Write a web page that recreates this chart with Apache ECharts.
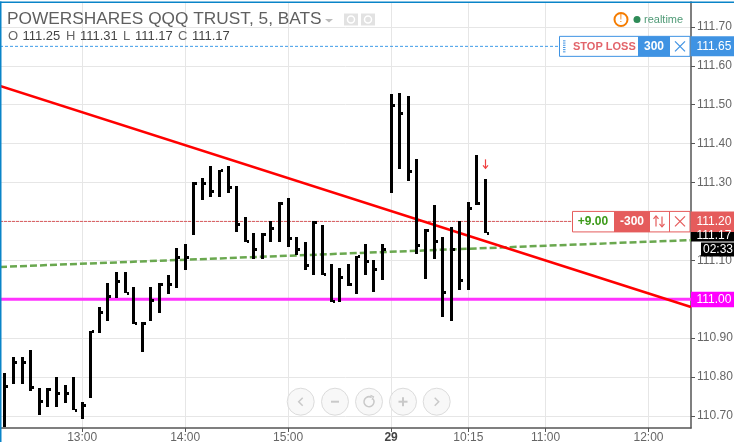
<!DOCTYPE html>
<html><head><meta charset="utf-8">
<style>html,body{margin:0;padding:0;background:#fff}#c{width:734px;height:442px}</style>
<script src="https://cdn.jsdelivr.net/npm/echarts@6/dist/echarts.min.js"></script>
</head><body><div id="c"></div>
<script>
const FONT = '"Liberation Sans", Arial, sans-serif';
const highs = [110.81,110.851,110.851,110.87,110.771,110.771,110.80,110.779,110.80,110.735,110.919,110.979,111.041,111.069,111.069,111.031,110.941,111.031,111.041,111.061,111.131,111.141,111.301,111.311,111.343,111.332,111.343,111.291,111.211,111.17,111.17,111.20,111.249,111.26,111.159,111.147,111.20,111.19,111.09,111.08,111.091,111.111,111.142,111.101,111.142,111.528,111.53,111.523,111.361,111.181,111.242,111.16,111.186,111.20,111.249,111.37,111.31];
const lows = [110.672,110.782,110.782,110.765,110.703,110.724,110.724,110.734,110.714,110.692,110.745,110.914,110.945,111.004,111.015,110.936,110.864,110.945,110.964,111.014,111.03,111.074,111.164,111.254,111.264,111.264,111.274,111.174,111.146,111.104,111.104,111.146,111.147,111.135,111.114,111.074,111.063,111.063,110.994,110.994,111.034,111.014,111.062,111.019,111.05,111.274,111.336,111.304,111.115,111.052,111.104,110.955,110.945,111.024,111.024,111.242,111.17];
const closes = [110.777,110.838,110.838,110.775,110.738,110.769,110.758,110.76,110.715,110.728,110.918,110.967,111.008,111.047,111.017,110.938,110.94,110.998,111.039,111.039,111.108,111.108,111.30,111.298,111.277,111.331,111.288,111.194,111.149,111.129,111.168,111.183,111.248,111.158,111.129,111.089,111.199,111.065,110.996,111.056,111.039,111.11,111.097,111.077,111.129,111.499,111.478,111.33,111.14,111.178,111.149,111.019,111.129,111.049,111.235,111.247,111.17];
const redLine = [[-0.58,111.548],[79.95,110.98]];
const greenLine = [[-0.58,111.083],[79.95,111.152]];
const magentaLevel = 111.00, stopLevel = 111.65, posLevel = 111.20, lastPrice = 111.17;
const priceTicks = [110.7,110.8,110.9,111.0,111.1,111.2,111.3,111.4,111.5,111.6,111.7];
const timeTickIdx = [9,21,33,45,54,63,75];
const timeTickLabels = ['13:00','14:00','15:00','29','10:15','11:00','12:00'];
const arrowBar = 56, arrowPrice = 111.348;

const chart = echarts.init(document.getElementById('c'), null, {renderer:'canvas'});
const lineS = (data,color,width,type,z) => ({type:'line',data,symbol:'none',silent:true,z,animation:false,
  lineStyle:{color,width,type}});
chart.setOption({
  animation:false,
  backgroundColor:'#fff',
  grid:{left:0,right:43,top:2,bottom:14,containLabel:false,outerBoundsMode:'none'},
  xAxis:{type:'value',min:-0.58,max:79.95,
    axisLine:{show:true,onZero:false,lineStyle:{color:'#555',width:1.5}},
    axisTick:{show:true,customValues:timeTickIdx,length:4,lineStyle:{color:'#555'}},
    axisLabel:{show:true,customValues:timeTickIdx,margin:4,fontFamily:FONT,fontSize:12,color:'#666',hideOverlap:false,
      showMinLabel:true,showMaxLabel:true,
      formatter:v=>{const s=timeTickLabels[timeTickIdx.indexOf(v)]; return s==='29'?'{b|29}':s;},
      rich:{b:{fontFamily:FONT,fontSize:12,fontWeight:'bold',color:'#444'}}},
    splitLine:{show:true,lineStyle:{color:'#e6e6e6',width:1}}},
  yAxis:{type:'value',position:'right',min:110.669,max:111.764,scale:true,
    axisLine:{show:true,onZero:false,lineStyle:{color:'#555',width:1.5}},
    axisTick:{show:true,customValues:priceTicks,length:4,lineStyle:{color:'#555'}},
    axisLabel:{show:true,customValues:priceTicks,margin:6,fontFamily:FONT,fontSize:12,color:'#666',
      formatter:v=>v.toFixed(2)},
    splitLine:{show:true,lineStyle:{color:'#e6e6e6',width:1}}},
  series:[
    lineS([[-0.58,stopLevel],[64.6,stopLevel]],'#3f9be8',1,[3,2],3),
    lineS([[-0.58,posLevel],[66,posLevel]],'#d9585c',1,[3,1],3),
    lineS([[-0.58,magentaLevel],[79.95,magentaLevel]],'#ff33ff',3,'solid',4),
    lineS(greenLine,'#6aa84f',2.5,[7,3],5),
    lineS(redLine,'#ff0000',2.5,'solid',6),
    {type:'custom',z:8,silent:true,animation:false,
     data:highs.map((h,i)=>[i,h,lows[i],closes[i]]),
     encode:{x:0,y:[1,2,3]},
     renderItem(p,api){
       const x=Math.floor(api.coord([api.value(0),0])[0])-1;
       const yh=Math.round(api.coord([0,api.value(1)])[1]), yl=Math.round(api.coord([0,api.value(2)])[1]), yc=Math.round(api.coord([0,api.value(3)])[1]);
       return {type:'group',children:[
         {type:'rect',shape:{x,y:yh,width:3,height:yl-yh},style:{fill:'#000'}},
         {type:'rect',shape:{x:x+3,y:yc-1,width:2,height:3},style:{fill:'#000'}}
       ]};
     }},
    {type:'custom',z:9,silent:true,animation:false,
     data:[[arrowBar,arrowPrice]],encode:{x:0,y:1},
     renderItem(p,api){
       const c=api.coord([api.value(0),api.value(1)]);
       const cx=Math.floor(c[0])+0.5, cy=c[1];
       const s={stroke:'#f04040',lineWidth:1.2,fill:'none'};
       return {type:'group',children:[
         {type:'line',shape:{x1:cx,y1:cy-4.5,x2:cx,y2:cy+4.5},style:s},
         {type:'polyline',shape:{points:[[cx-2.5,cy+1.5],[cx,cy+4.5],[cx+2.5,cy+1.5]]},style:s}
       ]};
     }}
  ]
});

const Y = v => chart.convertToPixel({yAxisIndex:0}, v);
const T = (x,y,text,o={}) => ({type:'text',z:o.z||50,x,y,style:Object.assign({text,fontFamily:FONT,fontSize:12,fill:'#555',
  textAlign:'left',textVerticalAlign:'middle'},o)});
const R = (x,y,w,h,fill,stroke,z=50,lw=1) => ({type:'rect',z,shape:{x,y,width:w,height:h},style:{fill,stroke:stroke||null,lineWidth:lw}});
const L = (x1,y1,x2,y2,stroke,lw=1,z=52) => ({type:'line',z,shape:{x1,y1,x2,y2},style:{stroke,lineWidth:lw}});
const P = (pts,stroke,lw=1.5,z=52) => ({type:'polyline',z,shape:{points:pts},style:{stroke,lineWidth:lw,fill:'none'}});
const Ci = (cx,cy,r,fill,stroke,lw=1,z=50) => ({type:'circle',z,shape:{cx,cy,r},style:{fill,stroke:stroke||null,lineWidth:lw}});

const g = [];
// chart frame
g.push(R(0,1.5,734,1.5,'#0a84c8',null,60));
g.push(R(0,1.5,1.5,440.5,'#0a84c8',null,60));
// header
g.push(T(7,19.5,'POWERSHARES QQQ TRUST, 5, BATS',{fontSize:17.3,fill:'#5f5f5f'}));
g.push({type:'polygon',z:50,shape:{points:[[325,19],[333,19],[329,22.5]]},style:{fill:'#bbb'}});
g.push(R(344,13.5,14,12,'#e2e2e2'));g.push(Ci(351,19.5,3.5,'#e2e2e2','#fff',1.5,51));
g.push(R(361,13.5,14,12,'#e2e2e2'));g.push(Ci(368,19.5,3.5,'#e2e2e2','#fff',1.5,51));
const ohlc=[['O',8],['111.25',22.5],['H',66],['111.31',80],['L',123],['111.17',135],['C',178],['111.17',192]];
ohlc.forEach(([t,x],i)=>g.push(T(x,36.5,t,{fontSize:13,fill:i%2?'#444':'#666'})));
// realtime
g.push(Ci(621,19.5,6.5,'#fff','#f57c00',2));
g.push(T(621,19.5,'!',{fontSize:10,fill:'#f57c00',textAlign:'center'}));
g.push(Ci(637,19.5,3.5,'#2e8b57'));
g.push(T(644,20,'realtime',{fontSize:11,fill:'#4f9a76'}));
// stop loss order
const ys=Y(stopLevel), B='#3f93e3';
g.push(R(559.5,ys-10,130.5,20,'#fff',B));
for(let i=0;i<6;i++) g.push(R(563,ys-6+i*2.2,2.5,1,B,null,51));
g.push(T(573,ys+0.5,'STOP LOSS',{fontSize:11,fontWeight:'bold',fill:'#e2646a',letterSpacing:0.2}));
g.push(R(638,ys-10,32,20,B,null,51));
g.push(T(654,ys+0.5,'300',{fontSize:12,fontWeight:'bold',fill:'#fff',textAlign:'center',z:52}));
g.push(L(675,ys-5,685,ys+5,B,1.2));g.push(L(685,ys-5,675,ys+5,B,1.2));
g.push(R(691,ys-10,43,20,B,null,55));
g.push(T(696.5,ys+0.5,'111.65',{fontSize:12,fill:'#fff',z:56}));
// position
const yp=Y(posLevel), RD='#e55c5c';
g.push(R(572.5,yp-10,117.5,20.5,'#fff',RD));
g.push(T(593,yp+0.5,'+9.00',{fontSize:12,fontWeight:'bold',fill:'#3d9a1a',textAlign:'center'}));
g.push(R(614,yp-10,36,20.5,RD,null,51));
g.push(T(632,yp+0.5,'-300',{fontSize:12,fontWeight:'bold',fill:'#fff',textAlign:'center',z:52}));
g.push(L(669.5,yp-10,669.5,yp+10.5,RD,1));
g.push(L(656,yp-5,656,yp+5,RD,1.2));g.push(P([[653.5,yp-2.5],[656,yp-5.5],[658.5,yp-2.5]],RD,1.2));
g.push(L(662,yp-5,662,yp+5,RD,1.2));g.push(P([[659.5,yp+2.5],[662,yp+5.5],[664.5,yp+2.5]],RD,1.2));
g.push(L(675,yp-5,685,yp+5,RD,1.2));g.push(L(685,yp-5,675,yp+5,RD,1.2));
// last price, countdown
const yl=Y(lastPrice);
g.push(R(691,yl-3.5,43,12,'#000',null,54));
g.push(T(696.5,yl+2.5,'111.17',{fontSize:12,fill:'#fff',z:56}));
g.push(R(701,242.5,33,14,'#000',null,54));
g.push(T(703,250,'02:33',{fontSize:12,fill:'#fff',z:56}));
g.push(R(691,yp-10,43,20.5,RD,null,55));
g.push(T(696.5,yp+0.5,'111.20',{fontSize:12,fill:'#fff',z:56}));
// magenta level tag
const ym=Y(magentaLevel);
g.push(R(691,ym-7.5,43,15.5,'#ff00ff',null,55));
g.push(T(696.5,ym+0.5,'111.00',{fontSize:12,fill:'#fff',z:56}));
// navigation buttons
const by=401.7, bc=[300.7,335,369,403,436.7], G='#c9c9c9';
bc.forEach(x=>g.push(Ci(x,by,13.5,'rgba(245,245,245,0.75)','#dcdcdc',1,40)));
g.push(P([[bc[0]+2,by-4],[bc[0]-2,by],[bc[0]+2,by+4]],G));
g.push(L(bc[1]-4,by,bc[1]+4,by,G,2));
g.push({type:'arc',z:52,shape:{cx:bc[2],cy:by,r:5,startAngle:-0.6,endAngle:-1.0,clockwise:true},style:{stroke:G,lineWidth:1.5,fill:'none'}});
g.push(P([[bc[2]+1.5,by-6.5],[bc[2]+4.5,by-5],[bc[2]+3,by-2]],G,1.2));
g.push(L(bc[3]-4.5,by,bc[3]+4.5,by,G,2));g.push(L(bc[3],by-4.5,bc[3],by+4.5,G,2));
g.push(P([[bc[4]-2,by-4],[bc[4]+2,by],[bc[4]-2,by+4]],G));
chart.setOption({graphic:{elements:g}});
</script></body></html>
